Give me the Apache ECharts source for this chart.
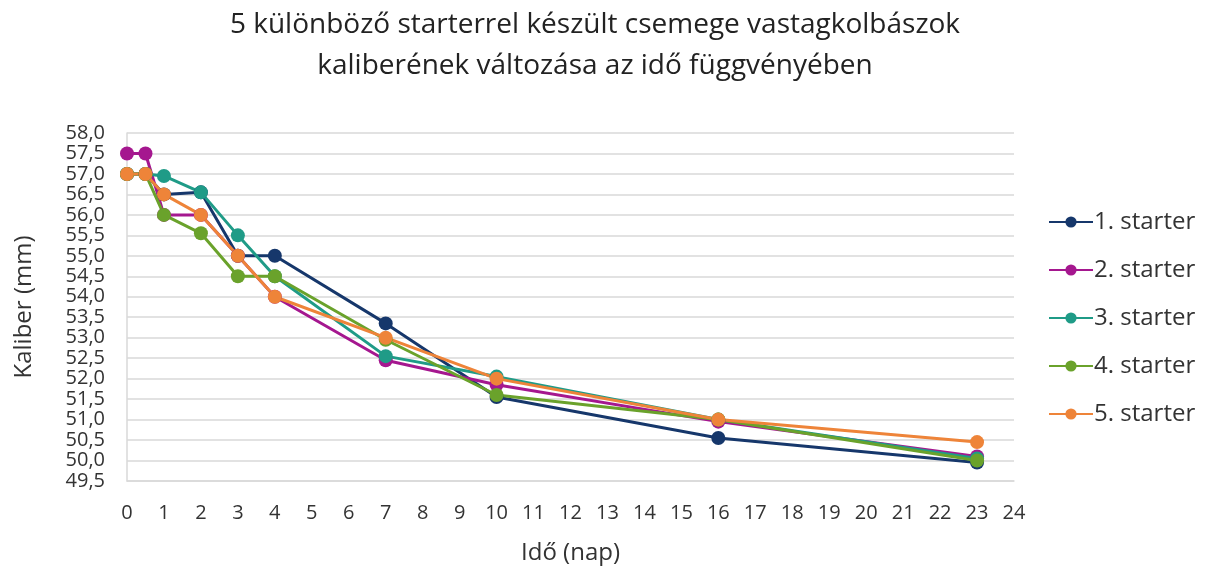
<!DOCTYPE html>
<html>
<head>
<meta charset="utf-8">
<script src="https://cdn.jsdelivr.net/npm/echarts@6/dist/echarts.min.js"></script>
<style>
  html, body { margin: 0; padding: 0; background: #fff; }
  #chart { width: 1211px; height: 571px; }
</style>
</head>
<body>
<div id="chart"></div>
<script>
// napok (x)
const days = [0, 0.5, 1, 2, 3, 4, 7, 10, 16, 23];
const seriesNames = ["1. starter", "2. starter", "3. starter", "4. starter", "5. starter"];
const starter1 = [57.0, 57.0, 56.5, 56.55, 55.0, 55.0, 53.35, 51.55, 50.55, 49.95];
const starter2 = [57.5, 57.5, 56.0, 56.0, 55.0, 54.0, 52.45, 51.85, 50.95, 50.1];
const starter3 = [57.0, 57.0, 56.95, 56.55, 55.5, 54.5, 52.55, 52.05, 51.0, 50.05];
const starter4 = [57.0, 57.0, 56.0, 55.55, 54.5, 54.5, 52.95, 51.6, 51.0, 50.0];
const starter5 = [57.0, 57.0, 56.5, 56.0, 55.0, 54.0, 53.0, 52.0, 51.0, 50.45];
const colors = ["#16376b", "#a5178f", "#1f9b87", "#6aa22b", "#ee8439"];

const allValues = [starter1, starter2, starter3, starter4, starter5];
const font = "'Open Sans', 'Noto Sans', sans-serif";

const chart = echarts.init(document.getElementById("chart"));
chart.setOption({
  animation: false,
  color: colors,
  title: {
    text: "5 különböző starterrel készült csemege vastagkolbászok\nkaliberének változása az idő függvényében",
    left: 590,
    textAlign: "center",
    top: 0,
    textStyle: {
      fontFamily: font,
      fontWeight: "normal",
      fontSize: 28,
      lineHeight: 41,
      color: "#222"
    }
  },
  legend: {
    orient: "vertical",
    left: 1043,
    top: 205,
    itemWidth: 44,
    itemHeight: 14,
    itemGap: 24,
    data: seriesNames,
    textStyle: { fontFamily: font, fontSize: 24, lineHeight: 24, color: "#333", padding: [0, 0, 0, -4] }
  },
  grid: {
    left: 127,
    top: 133,
    right: 197,
    bottom: 90,
    outerBoundsMode: "none"
  },
  xAxis: {
    type: "value",
    min: 0,
    max: 24,
    interval: 1,
    name: "Idő (nap)",
    nameLocation: "middle",
    nameGap: 60,
    nameTextStyle: { fontFamily: font, fontSize: 24, color: "#333" },
    axisLine: { show: true, lineStyle: { color: "#d9d9d9", width: 1.5 } },
    axisTick: { show: false },
    axisLabel: { fontFamily: font, fontSize: 20, color: "#333", margin: 22 },
    splitLine: { show: false }
  },
  yAxis: {
    type: "value",
    min: 49.5,
    max: 58,
    interval: 0.5,
    name: "Kaliber (mm)",
    nameLocation: "middle",
    nameGap: 91,
    nameTextStyle: { fontFamily: font, fontSize: 24, color: "#333" },
    axisLine: { show: true, lineStyle: { color: "#d9d9d9", width: 1.5 } },
    axisTick: { show: false },
    axisLabel: {
      fontFamily: font,
      fontSize: 20,
      color: "#333",
      margin: 22,
      formatter: v => v.toFixed(1).replace(".", ",")
    },
    splitLine: { lineStyle: { color: "#d9d9d9", width: 1.5 } }
  },
  series: seriesNames.map((name, i) => ({
    name: name,
    type: "line",
    symbol: "circle",
    symbolSize: 14,
    lineStyle: { width: 3 },
    data: days.map((d, j) => [d, allValues[i][j]])
  }))
});
</script>
</body>
</html>
